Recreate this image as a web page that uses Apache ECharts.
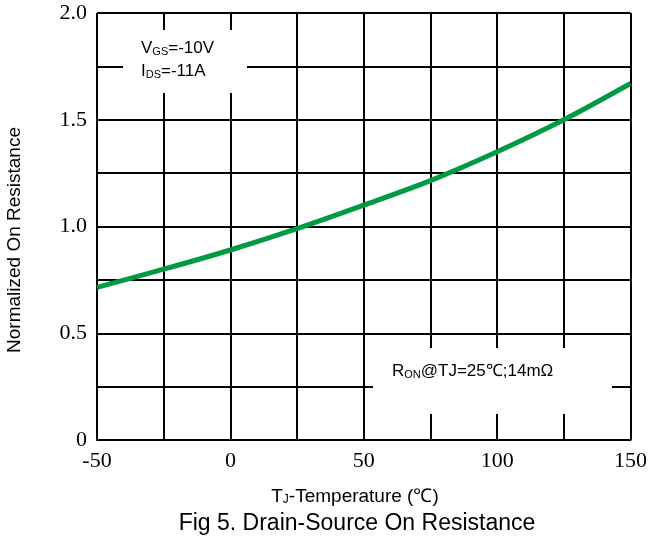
<!DOCTYPE html>
<html>
<head>
<meta charset="utf-8">
<script src="https://cdn.jsdelivr.net/npm/echarts@6/dist/echarts.min.js"></script>
<style>html,body{margin:0;padding:0;background:#fff}#c{width:650px;height:544px}</style>
</head>
<body>
<div id="c"></div>
<script>
// Data
var temperatures = [-50, -25, 0, 25, 50, 75, 100, 125, 150];
var normalizedRon = [0.715, 0.80, 0.89, 0.99, 1.10, 1.215, 1.35, 1.50, 1.67];
var xTickLabels = ['-50', '0', '50', '100', '150'];
var yTickLabels = ['0', '0.5', '1.0', '1.5', '2.0'];

var chart = echarts.init(document.getElementById('c'), null, {renderer: 'canvas'});
var serif = '"Liberation Serif", "Times New Roman", serif';
var sans = '"Liberation Sans", Arial, sans-serif';

function xFmt(v) {
  for (var i = 0; i < xTickLabels.length; i++) if (Number(xTickLabels[i]) === v) return xTickLabels[i];
  return '';
}
function yFmt(v) {
  for (var i = 0; i < yTickLabels.length; i++) if (Math.abs(Number(yTickLabels[i]) - v) < 1e-9) return yTickLabels[i];
  return '';
}

var option = {
  animation: false,
  backgroundColor: '#fff',
  grid: {left: 97, right: 17, top: 13, bottom: 104, containLabel: false},
  xAxis: {
    type: 'value', min: -50, max: 150, interval: 25,
    axisLine: {show: true, onZero: false, lineStyle: {color: '#000', width: 2}},
    axisTick: {show: false},
    splitLine: {show: true, lineStyle: {color: '#000', width: 2}},
    axisLabel: {formatter: xFmt, fontFamily: serif, fontSize: 22, color: '#000', margin: 10, showMinLabel: true, showMaxLabel: true}
  },
  yAxis: {
    type: 'value', min: 0, max: 2, interval: 0.25,
    axisLine: {show: true, lineStyle: {color: '#000', width: 2}},
    axisTick: {show: false},
    splitLine: {show: true, lineStyle: {color: '#000', width: 2}},
    axisLabel: {formatter: yFmt, fontFamily: serif, fontSize: 22, color: '#000', margin: 10}
  },
  series: [{
    type: 'line', data: temperatures.map(function (t, i) { return [t, normalizedRon[i]]; }),
    smooth: 0.3, showSymbol: false, z: 20,
    lineStyle: {color: '#009a44', width: 5}
  }],
  graphic: [
    {type: 'rect', z: 10, shape: {x: 123, y: 30, width: 124, height: 63}, style: {fill: '#fff'}},
    {type: 'rect', z: 10, shape: {x: 373, y: 348, width: 239, height: 66}, style: {fill: '#fff'}},
    {type: 'text', z: 11, left: 141, top: 40, style: {
      text: '{n|V}{s|GS}{n|=-10V}\n{n|I}{s|DS}{n|=-11A}',
      rich: {n: {fontFamily: sans, fontSize: 17, color: '#000', lineHeight: 23, verticalAlign: 'bottom'},
             s: {fontFamily: sans, fontSize: 11, color: '#000', lineHeight: 23, verticalAlign: 'bottom'}}
    }},
    {type: 'text', z: 11, left: 392, top: 363, style: {
      text: '{n|R}{s|ON}{n|@TJ=25℃;14mΩ}',
      rich: {n: {fontFamily: sans, fontSize: 17, color: '#000', lineHeight: 22, verticalAlign: 'bottom'},
             s: {fontFamily: sans, fontSize: 11, color: '#000', lineHeight: 22, verticalAlign: 'bottom'}}
    }},
    {type: 'text', z: 11, rotation: Math.PI / 2, x: 15, y: 240, style: {
      text: 'Normalized On Resistance', fontFamily: sans, fontSize: 19, fill: '#000',
      align: 'center', verticalAlign: 'middle'
    }},
    {type: 'text', z: 11, x: 355, y: 494, style: {
      text: '{n|T}{s|J}{n|-Temperature (℃)}', align: 'center', verticalAlign: 'middle',
      rich: {n: {fontFamily: sans, fontSize: 19, color: '#000', lineHeight: 24, verticalAlign: 'bottom'},
             s: {fontFamily: sans, fontSize: 12, color: '#000', lineHeight: 24, verticalAlign: 'bottom'}}
    }},
    {type: 'text', z: 11, x: 357, y: 524, style: {
      text: 'Fig 5. Drain-Source On Resistance', fontFamily: sans, fontSize: 23, fill: '#000',
      align: 'center', verticalAlign: 'middle'
    }}
  ]
};
chart.setOption(option);
</script>
</body>
</html>
